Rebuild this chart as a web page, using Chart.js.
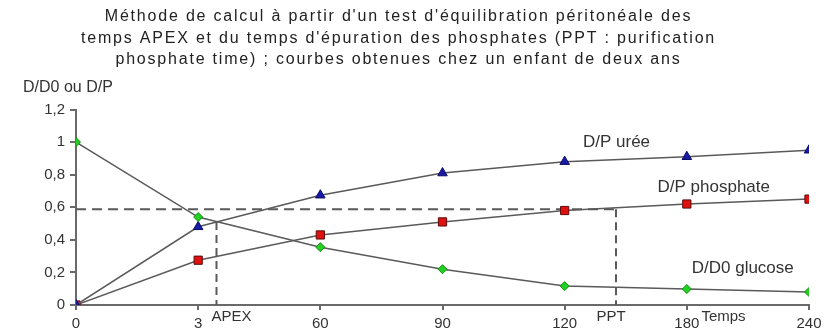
<!DOCTYPE html>
<html>
<head>
<meta charset="utf-8">
<script src="https://cdn.jsdelivr.net/npm/chart.js@4"></script>
<style>
  html, body { margin: 0; padding: 0; background: #fff; }
  #wrap { width: 831px; height: 331px; }
</style>
</head>
<body>
<div id="wrap"><canvas id="chart" width="831" height="331"></canvas></div>
<script>
const xLabels = ['0', '3', '60', '90', '120', '180', '240'];
const yTickLabels = ['0', '0,2', '0,4', '0,6', '0,8', '1', '1,2'];

const glucose = [1.0, 0.54, 0.355, 0.22, 0.116, 0.098, 0.08];
const uree = [0.0, 0.48, 0.674, 0.81, 0.88, 0.91, 0.95];
const phosphate = [0.0, 0.275, 0.43, 0.51, 0.58, 0.62, 0.65];

// reference lines (x in category index units)
const level = 0.588;
const apexX = 1.15, apexY = 0.51;
const pptX = 4.42;

const titleLines = [
  "Méthode de calcul à partir d'un test d'équilibration péritonéale des",
  "temps APEX et du temps d'épuration des phosphates (PPT : purification",
  "phosphate time) ; courbes obtenues chez un enfant de deux ans"
];

const toPts = (arr) => arr.map((v, i) => ({ x: i, y: v }));
const lineGrey = '#5a5a5a';
const dash = [10, 6];

// wider letter spacing for the title, like the scanned figure
const titleSpacing = {
  id: 'titleSpacing',
  beforeDraw(chart) {
    const t = chart.titleBlock;
    if (t && !t._spaced) {
      const draw = t.draw.bind(t);
      t.draw = (area) => {
        const c = chart.ctx;
        c.save();
        c.letterSpacing = '1.8px';
        c.translate(-6, 0);
        draw(area);
        c.restore();
      };
      t._spaced = true;
    }
  }
};

const labels = {
  id: 'labels',
  afterDraw(chart) {
    const { ctx, scales: { x, y }, chartArea } = chart;
    ctx.save();
    ctx.fillStyle = '#333';
    ctx.textBaseline = 'middle';
    ctx.textAlign = 'left';
    ctx.font = '17px "Liberation Sans", Arial, sans-serif';
    ctx.fillText('D/P urée', x.getPixelForValue(4.15), y.getPixelForValue(1.0));
    ctx.fillText('D/P phosphate', x.getPixelForValue(4.76), y.getPixelForValue(0.72));
    ctx.fillText('D/D0 glucose', x.getPixelForValue(5.04), y.getPixelForValue(0.225));
    ctx.font = '16px "Liberation Sans", Arial, sans-serif';
    ctx.fillText('D/D0 ou D/P', 23, chartArea.top - 22);
    ctx.font = '15px "Liberation Sans", Arial, sans-serif';
    const by = chartArea.bottom + 12;
    ctx.fillText('APEX', x.getPixelForValue(apexX) - 5, by);
    ctx.textAlign = 'center';
    ctx.fillText('PPT', x.getPixelForValue(pptX) - 5, by);
    ctx.fillText('Temps', x.getPixelForValue(5.3), by);
    ctx.restore();
  }
};

new Chart(document.getElementById('chart'), {
  type: 'line',
  data: {
    datasets: [
      {
        label: 'D/D0 glucose',
        data: toPts(glucose),
        borderColor: lineGrey,
        borderWidth: 1.5,
        pointStyle: 'rectRot',
        pointRadius: 4.5,
        pointBackgroundColor: '#22d022',
        pointBorderColor: '#138a13',
        pointBorderWidth: 1
      },
      {
        label: 'D/P urée',
        data: toPts(uree),
        borderColor: lineGrey,
        borderWidth: 1.5,
        pointStyle: 'triangle',
        pointRadius: 5.5,
        pointBackgroundColor: '#1a1aa8',
        pointBorderColor: '#0c0c60',
        pointBorderWidth: 1
      },
      {
        label: 'D/P phosphate',
        data: toPts(phosphate),
        borderColor: lineGrey,
        borderWidth: 1.5,
        pointStyle: 'rect',
        pointRadius: 5.8,
        pointBackgroundColor: '#e01010',
        pointBorderColor: '#5a0a0a',
        pointBorderWidth: 1
      },
      {
        label: 'niveau',
        data: [{ x: 0, y: level }, { x: pptX, y: level }],
        borderColor: lineGrey, borderWidth: 2, borderDash: dash, pointRadius: 0
      },
      {
        label: 'APEX',
        data: [{ x: apexX, y: apexY }, { x: apexX, y: 0 }],
        borderColor: lineGrey, borderWidth: 2, borderDash: [8, 5], pointRadius: 0
      },
      {
        label: 'PPT',
        data: [{ x: pptX, y: level }, { x: pptX, y: 0 }],
        borderColor: lineGrey, borderWidth: 2, borderDash: [8, 5], pointRadius: 0
      }
    ]
  },
  options: {
    responsive: false,
    animation: false,
    layout: { padding: { left: 0, right: 22, top: 0, bottom: 0 } },
    plugins: {
      legend: { display: false },
      tooltip: { enabled: false },
      title: {
        display: true,
        text: titleLines,
        color: '#222',
        font: { family: '"Liberation Sans", Arial, sans-serif', size: 16, weight: 'normal', lineHeight: 1.344 },
        padding: { top: 6, bottom: 39 }
      }
    },
    scales: {
      x: {
        type: 'linear',
        min: 0,
        max: 6,
        afterFit: (s) => { s.height = 26; },
        border: { display: true, color: '#6a6a6a', width: 2 },
        grid: { display: true, drawOnChartArea: false, drawTicks: true, tickLength: 5, color: '#6a6a6a', lineWidth: 2 },
        ticks: {
          stepSize: 1,
          padding: 5,
          color: '#333',
          maxRotation: 0,
          font: { family: '"Liberation Sans", Arial, sans-serif', size: 15 },
          callback: (v) => xLabels[v]
        }
      },
      y: {
        min: 0,
        max: 1.2,
        afterFit: (s) => { s.width = 76; },
        border: { display: true, color: '#6a6a6a', width: 2 },
        grid: { display: true, drawOnChartArea: false, drawTicks: true, tickLength: 6, color: '#6a6a6a', lineWidth: 2 },
        ticks: {
          stepSize: 0.2,
          padding: 5,
          color: '#333',
          font: { family: '"Liberation Sans", Arial, sans-serif', size: 15 },
          callback: (v, i) => yTickLabels[i]
        }
      }
    }
  },
  plugins: [titleSpacing, labels]
});
</script>
</body>
</html>
